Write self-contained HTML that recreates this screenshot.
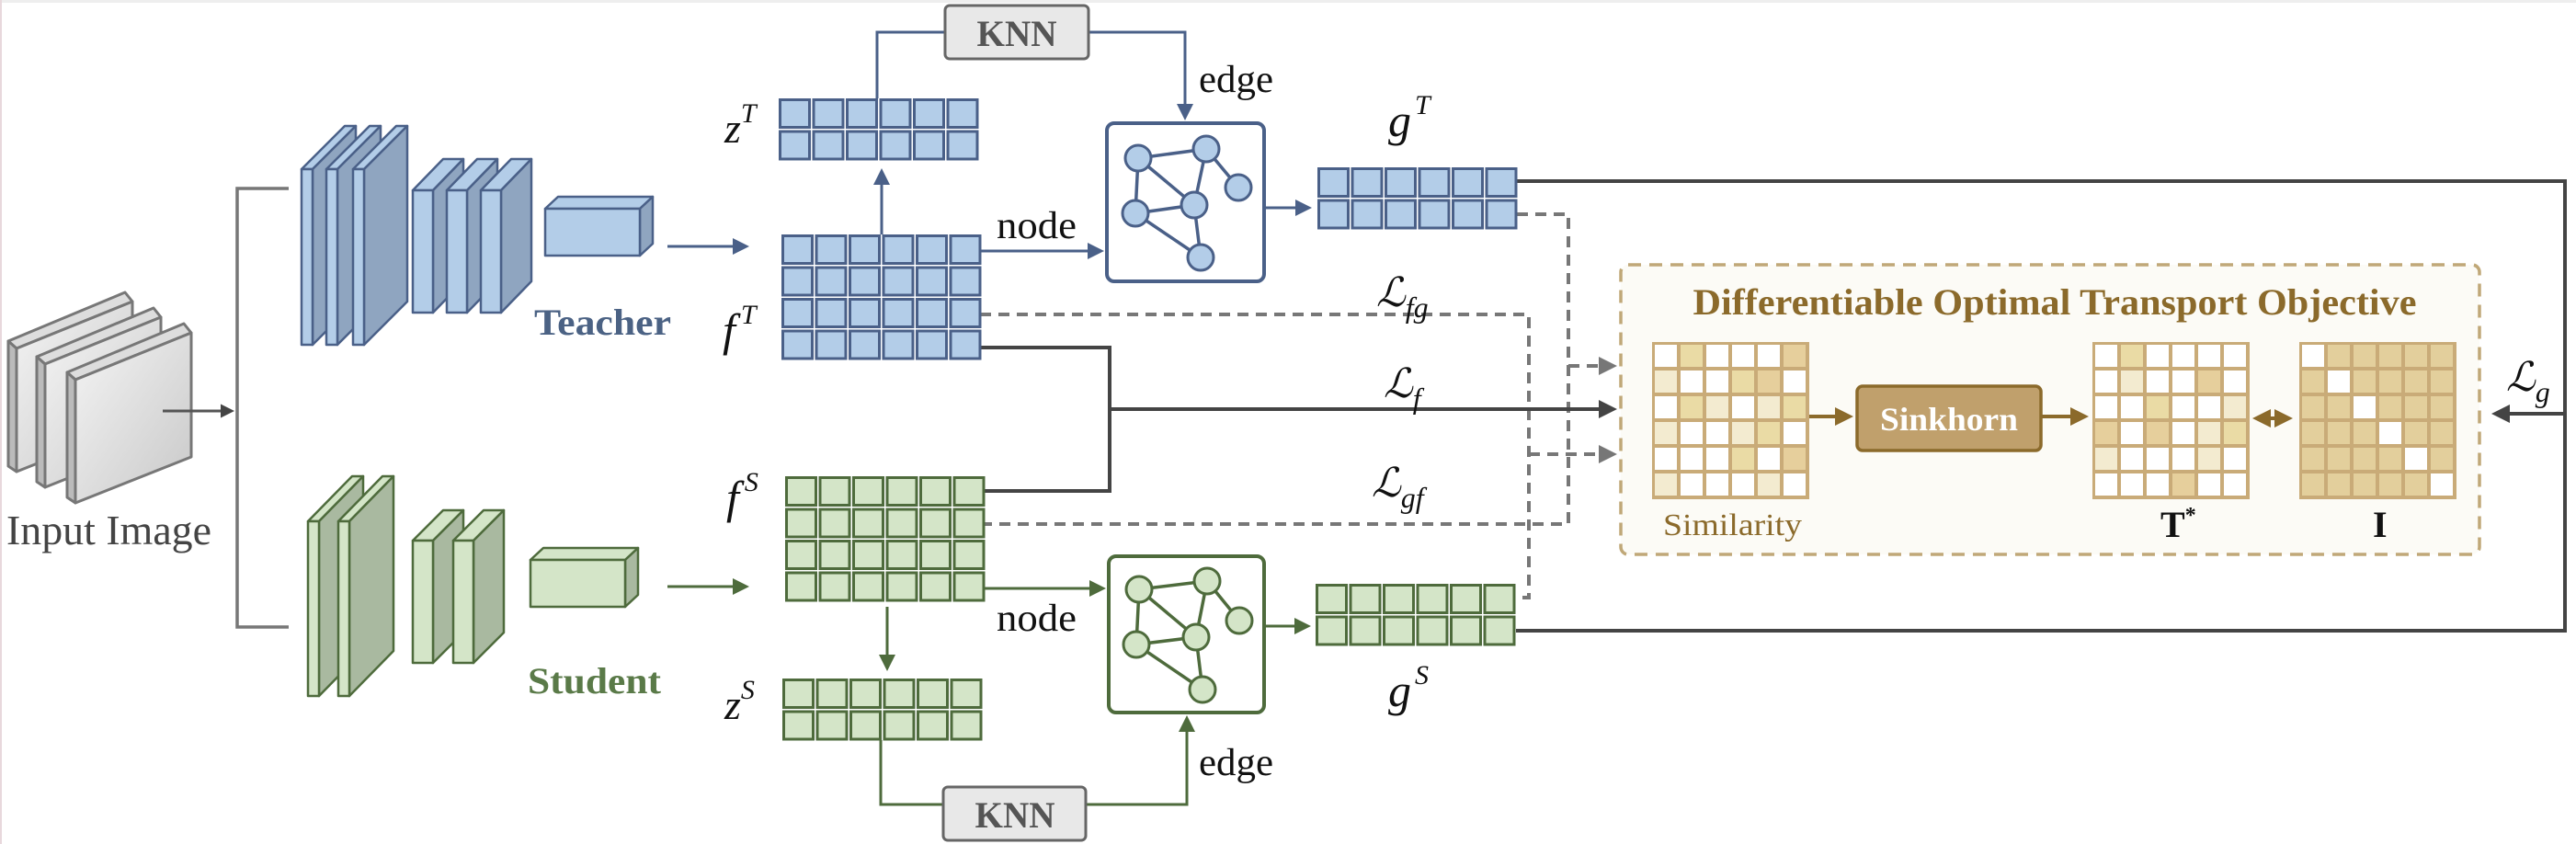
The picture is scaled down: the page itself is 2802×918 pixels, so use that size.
<!DOCTYPE html>
<html><head><meta charset="utf-8"><style>
html,body{margin:0;padding:0;background:#fff;}
svg{display:block;}
text{font-family:"Liberation Serif",serif;}
</style></head><body>
<svg width="2802" height="918" viewBox="0 0 2802 918" xmlns="http://www.w3.org/2000/svg">
<defs>
<pattern id="pb" patternUnits="userSpaceOnUse" width="36.5" height="34.5"><rect x="1.5" y="1.5" width="32" height="30" fill="#b3cde8" stroke="#4a6088" stroke-width="3"/></pattern>
<pattern id="pg" patternUnits="userSpaceOnUse" width="36.5" height="34.5"><rect x="1.5" y="1.5" width="32" height="30" fill="#d4e5c8" stroke="#4e6b3c" stroke-width="3"/></pattern>
<linearGradient id="gr" x1="0" y1="0" x2="1" y2="1"><stop offset="0" stop-color="#f4f4f4"/><stop offset="1" stop-color="#c8c8c8"/></linearGradient>
<marker id="ab" markerWidth="6" markerHeight="6" refX="5" refY="3" orient="auto" markerUnits="strokeWidth"><path d="M0,0 L6,3 L0,6z" fill="#4a6088"/></marker>
<marker id="ag" markerWidth="6" markerHeight="6" refX="5" refY="3" orient="auto" markerUnits="strokeWidth"><path d="M0,0 L6,3 L0,6z" fill="#4e6b3c"/></marker>
<marker id="ak" markerWidth="5" markerHeight="5" refX="4" refY="2.5" orient="auto" markerUnits="strokeWidth"><path d="M0,0 L5,2.5 L0,5z" fill="#444"/></marker>
<marker id="ay" markerWidth="5" markerHeight="5" refX="4" refY="2.5" orient="auto" markerUnits="strokeWidth"><path d="M0,0 L5,2.5 L0,5z" fill="#777"/></marker>
<marker id="ao" markerWidth="5" markerHeight="5" refX="4" refY="2.5" orient="auto" markerUnits="strokeWidth"><path d="M0,0 L5,2.5 L0,5z" fill="#8b6a2b"/></marker>
<marker id="aos" markerWidth="5" markerHeight="5" refX="1" refY="2.5" orient="auto" markerUnits="strokeWidth"><path d="M5,0 L0,2.5 L5,5z" fill="#8b6a2b"/></marker>
</defs>
<rect x="0" y="0" width="2802" height="3" fill="#eee"/>
<rect x="0" y="0" width="2" height="918" fill="#e8d8dc"/>

<!-- input image plates -->
<g stroke="#777" stroke-width="3" stroke-linejoin="round">
<g transform="translate(-64,-34)"><path d="M73,405 L200,352 L208,362 L82,413z" fill="#ddd"/><path d="M73,405 L82,413 L82,547 L73,541z" fill="#bbb"/><path d="M82,413 L208,362 L208,497 L82,547z" fill="url(#gr)"/></g>
<g transform="translate(-33,-17)"><path d="M73,405 L200,352 L208,362 L82,413z" fill="#ddd"/><path d="M73,405 L82,413 L82,547 L73,541z" fill="#bbb"/><path d="M82,413 L208,362 L208,497 L82,547z" fill="url(#gr)"/></g>
<g><path d="M73,405 L200,352 L208,362 L82,413z" fill="#ddd"/><path d="M73,405 L82,413 L82,547 L73,541z" fill="#bbb"/><path d="M82,413 L208,362 L208,497 L82,547z" fill="url(#gr)"/></g>
</g>
<line x1="177" y1="447" x2="252" y2="447" stroke="#555" stroke-width="3" marker-end="url(#ak)"/>
<text x="7" y="592" font-size="46" fill="#444" textLength="223" lengthAdjust="spacingAndGlyphs">Input Image</text>
<path d="M314,205 H258 V682 H314" fill="none" stroke="#777" stroke-width="3.5"/>

<!-- teacher backbone -->
<g stroke="#4a6088" stroke-width="2.5" stroke-linejoin="round">
<g><path d="M328,184 L375,137 L387,137 L340,184z" fill="#b3cde8"/><path d="M340,184 L387,137 L387,328 L340,375z" fill="#8fa5c0"/><rect x="328" y="184" width="12" height="191" fill="#b3cde8"/></g>
<g transform="translate(27,0)"><path d="M328,184 L375,137 L387,137 L340,184z" fill="#b3cde8"/><path d="M340,184 L387,137 L387,328 L340,375z" fill="#8fa5c0"/><rect x="328" y="184" width="12" height="191" fill="#b3cde8"/></g>
<g transform="translate(56,0)"><path d="M328,184 L375,137 L387,137 L340,184z" fill="#b3cde8"/><path d="M340,184 L387,137 L387,328 L340,375z" fill="#8fa5c0"/><rect x="328" y="184" width="12" height="191" fill="#b3cde8"/></g>
<g><path d="M449,207 L482,173 L504,173 L471,207z" fill="#b3cde8"/><path d="M471,207 L504,173 L504,306 L471,340z" fill="#8fa5c0"/><rect x="449" y="207" width="22" height="133" fill="#b3cde8"/></g>
<g transform="translate(37,0)"><path d="M449,207 L482,173 L504,173 L471,207z" fill="#b3cde8"/><path d="M471,207 L504,173 L504,306 L471,340z" fill="#8fa5c0"/><rect x="449" y="207" width="22" height="133" fill="#b3cde8"/></g>
<g transform="translate(74,0)"><path d="M449,207 L482,173 L504,173 L471,207z" fill="#b3cde8"/><path d="M471,207 L504,173 L504,306 L471,340z" fill="#8fa5c0"/><rect x="449" y="207" width="22" height="133" fill="#b3cde8"/></g>
<path d="M593,227 L607,214 L710,214 L696,227z" fill="#b3cde8"/><path d="M696,227 L710,214 L710,265 L696,278z" fill="#8fa5c0"/><rect x="593" y="227" width="103" height="51" fill="#b3cde8"/>
</g>
<line x1="726" y1="268" x2="812" y2="268" stroke="#4a6088" stroke-width="3" marker-end="url(#ab)"/>
<text x="581" y="364" font-size="40" font-weight="bold" fill="#4b6284" textLength="149" lengthAdjust="spacingAndGlyphs">Teacher</text>

<!-- student backbone -->
<g stroke="#4e6b3c" stroke-width="2.5" stroke-linejoin="round">
<g><path d="M335,567 L383,518 L395,518 L347,567z" fill="#d4e5c8"/><path d="M347,567 L395,518 L395,708 L347,757z" fill="#a9b9a0"/><rect x="335" y="567" width="12" height="190" fill="#d4e5c8"/></g>
<g transform="translate(33,0)"><path d="M335,567 L383,518 L395,518 L347,567z" fill="#d4e5c8"/><path d="M347,567 L395,518 L395,708 L347,757z" fill="#a9b9a0"/><rect x="335" y="567" width="12" height="190" fill="#d4e5c8"/></g>
<g><path d="M449,588 L482,555 L504,555 L471,588z" fill="#d4e5c8"/><path d="M471,588 L504,555 L504,688 L471,721z" fill="#a9b9a0"/><rect x="449" y="588" width="22" height="133" fill="#d4e5c8"/></g>
<g transform="translate(44,0)"><path d="M449,588 L482,555 L504,555 L471,588z" fill="#d4e5c8"/><path d="M471,588 L504,555 L504,688 L471,721z" fill="#a9b9a0"/><rect x="449" y="588" width="22" height="133" fill="#d4e5c8"/></g>
<path d="M577,609 L591,596 L694,596 L680,609z" fill="#d4e5c8"/><path d="M680,609 L694,596 L694,647 L680,660z" fill="#a9b9a0"/><rect x="577" y="609" width="103" height="51" fill="#d4e5c8"/>
</g>
<line x1="726" y1="638" x2="812" y2="638" stroke="#4e6b3c" stroke-width="3" marker-end="url(#ag)"/>
<text x="574" y="754" font-size="40" font-weight="bold" fill="#5a7a48" textLength="145" lengthAdjust="spacingAndGlyphs">Student</text>

<!-- connectors (under grids) -->
<g fill="none" stroke="#4a6088" stroke-width="3">
<line x1="959" y1="255" x2="959" y2="186" marker-end="url(#ab)"/>
<path d="M954,107 V35 H1028"/>
<path d="M1184,35 H1289 V128" marker-end="url(#ab)"/>
<line x1="1066" y1="273" x2="1198" y2="273" marker-end="url(#ab)"/>
<line x1="1375" y1="226" x2="1424" y2="226" marker-end="url(#ab)"/>
</g>
<g fill="none" stroke="#4e6b3c" stroke-width="3">
<line x1="965" y1="660" x2="965" y2="727" marker-end="url(#ag)"/>
<path d="M958,805 V875 H1026"/>
<path d="M1181,875 H1291 V781" marker-end="url(#ag)"/>
<line x1="1070" y1="640" x2="1200" y2="640" marker-end="url(#ag)"/>
<line x1="1375" y1="681" x2="1423" y2="681" marker-end="url(#ag)"/>
</g>
<!-- dashed -->
<g fill="none" stroke="#777" stroke-width="4" stroke-dasharray="12 8">
<path d="M1066,342 H1663 V650 H1649"/>
<path d="M1650,233 H1706 V570 H1070"/>
<path d="M1663,494 H1755" marker-end="url(#ay)"/>
<path d="M1706,398 H1755" marker-end="url(#ay)"/>
</g>
<g fill="none" stroke="#444" stroke-width="4">
<path d="M1066,378 H1207 V534 H1070"/>
<path d="M1207,445 H1755" marker-end="url(#ak)"/>
<path d="M1650,197 H2790 V686 H1649"/>
<path d="M2790,450 H2714" marker-end="url(#ak)"/>
</g>

<!-- grids -->
<rect transform="translate(847,107)" width="219" height="69" fill="url(#pb)"/>
<rect transform="translate(850,255)" width="219" height="138" fill="url(#pb)"/>
<rect transform="translate(1433,182)" width="219" height="69" fill="url(#pb)"/>
<rect transform="translate(854,518)" width="219" height="138" fill="url(#pg)"/>
<rect transform="translate(851,738)" width="219" height="69" fill="url(#pg)"/>
<rect transform="translate(1431,635)" width="219" height="69" fill="url(#pg)"/>

<!-- graph boxes -->
<g stroke="#4a6088" stroke-width="4" fill="#fff"><rect x="1204" y="134" width="171" height="172" rx="8"/></g>
<g stroke="#4a6088" stroke-width="3.5"><path d="M1238,172 L1312,162 M1238,172 L1235,232 M1238,172 L1299,223 M1312,162 L1299,223 M1312,162 L1347,204 M1235,232 L1299,223 M1235,232 L1306,280 M1299,223 L1306,280"/></g>
<g stroke="#4a6088" stroke-width="3" fill="#b3cde8"><circle cx="1238" cy="172" r="14"/><circle cx="1312" cy="162" r="14"/><circle cx="1347" cy="204" r="14"/><circle cx="1299" cy="223" r="14"/><circle cx="1235" cy="232" r="14"/><circle cx="1306" cy="280" r="14"/></g>
<g stroke="#4e6b3c" stroke-width="4" fill="#fff"><rect x="1206" y="605" width="169" height="170" rx="8"/></g>
<g stroke="#4e6b3c" stroke-width="3.5"><path d="M1239,641 L1313,632 M1239,641 L1236,701 M1239,641 L1301,693 M1313,632 L1301,693 M1313,632 L1348,675 M1236,701 L1301,693 M1236,701 L1308,750 M1301,693 L1308,750"/></g>
<g stroke="#4e6b3c" stroke-width="3" fill="#d4e5c8"><circle cx="1239" cy="641" r="14"/><circle cx="1313" cy="632" r="14"/><circle cx="1348" cy="675" r="14"/><circle cx="1301" cy="693" r="14"/><circle cx="1236" cy="701" r="14"/><circle cx="1308" cy="750" r="14"/></g>

<!-- KNN boxes -->
<rect x="1028" y="6" width="156" height="58" rx="5" fill="#e8e8e8" stroke="#666" stroke-width="3"/>
<text x="1106" y="50" font-size="40" font-weight="bold" fill="#555" text-anchor="middle" textLength="87" lengthAdjust="spacingAndGlyphs">KNN</text>
<rect x="1026" y="856" width="155" height="58" rx="5" fill="#e8e8e8" stroke="#666" stroke-width="3"/>
<text x="1104" y="900" font-size="40" font-weight="bold" fill="#555" text-anchor="middle" textLength="87" lengthAdjust="spacingAndGlyphs">KNN</text>

<!-- text labels -->
<g fill="#111" font-size="42">
<text x="1304" y="100" textLength="81" lengthAdjust="spacingAndGlyphs">edge</text>
<text x="1304" y="843" textLength="81" lengthAdjust="spacingAndGlyphs">edge</text>
<text x="1084" y="259" textLength="87" lengthAdjust="spacingAndGlyphs">node</text>
<text x="1084" y="686" textLength="87" lengthAdjust="spacingAndGlyphs">node</text>
</g>
<g fill="#111" font-style="italic">
<text x="788" y="155" font-size="46">z<tspan dy="-22" font-size="30">T</tspan></text>
<text x="786" y="376" font-size="50">f<tspan dy="-24" dx="6" font-size="30">T</tspan></text>
<text x="790" y="558" font-size="50">f<tspan dy="-24" dx="6" font-size="30">S</tspan></text>
<text x="788" y="782" font-size="46">z<tspan dy="-22" font-size="30">S</tspan></text>
<text x="1510" y="148" font-size="50">g<tspan dy="-24" dx="4" font-size="30">T</tspan></text>
<text x="1510" y="768" font-size="50">g<tspan dy="-24" dx="4" font-size="30">S</tspan></text>
<text x="1497" y="333" font-size="44">ℒ<tspan dy="12" font-size="32">fg</tspan></text>
<text x="1505" y="432" font-size="44">ℒ<tspan dy="12" font-size="32">f</tspan></text>
<text x="1492" y="540" font-size="44">ℒ<tspan dy="12" font-size="32">gf</tspan></text>
<text x="2726" y="425" font-size="44">ℒ<tspan dy="12" font-size="32">g</tspan></text>
</g>

<!-- OT objective -->
<rect x="1763" y="288" width="934" height="315" rx="8" fill="#fcfbf6" stroke="#c0a878" stroke-width="3.5" stroke-dasharray="14 9"/>
<text x="2235" y="342" font-size="40" font-weight="bold" fill="#8b6a2b" text-anchor="middle" textLength="787" lengthAdjust="spacingAndGlyphs">Differentiable Optimal Transport Objective</text>

<g>
<rect x="1797" y="372" width="171" height="171" fill="#c9ab78"/>
<g transform="translate(1800,375)">
<rect x="0" y="0" width="24" height="24" fill="#fff"/><rect x="28" y="0" width="24" height="24" fill="#eadba5"/><rect x="56" y="0" width="24" height="24" fill="#fff"/><rect x="84" y="0" width="24" height="24" fill="#fff"/><rect x="112" y="0" width="24" height="24" fill="#fff"/><rect x="140" y="0" width="24" height="24" fill="#e6cf9c"/>
<rect x="0" y="28" width="24" height="24" fill="#f3ebd0"/><rect x="28" y="28" width="24" height="24" fill="#fff"/><rect x="56" y="28" width="24" height="24" fill="#fff"/><rect x="84" y="28" width="24" height="24" fill="#eadba5"/><rect x="112" y="28" width="24" height="24" fill="#e6cf9c"/><rect x="140" y="28" width="24" height="24" fill="#fff"/>
<rect x="0" y="56" width="24" height="24" fill="#fff"/><rect x="28" y="56" width="24" height="24" fill="#eadba5"/><rect x="56" y="56" width="24" height="24" fill="#f3ebd0"/><rect x="84" y="56" width="24" height="24" fill="#fff"/><rect x="112" y="56" width="24" height="24" fill="#f3ebd0"/><rect x="140" y="56" width="24" height="24" fill="#eadba5"/>
<rect x="0" y="84" width="24" height="24" fill="#f3ebd0"/><rect x="28" y="84" width="24" height="24" fill="#fff"/><rect x="56" y="84" width="24" height="24" fill="#fff"/><rect x="84" y="84" width="24" height="24" fill="#f3ebd0"/><rect x="112" y="84" width="24" height="24" fill="#eadba5"/><rect x="140" y="84" width="24" height="24" fill="#fff"/>
<rect x="0" y="112" width="24" height="24" fill="#fff"/><rect x="28" y="112" width="24" height="24" fill="#fff"/><rect x="56" y="112" width="24" height="24" fill="#fff"/><rect x="84" y="112" width="24" height="24" fill="#eadba5"/><rect x="112" y="112" width="24" height="24" fill="#fff"/><rect x="140" y="112" width="24" height="24" fill="#e6cf9c"/>
<rect x="0" y="140" width="24" height="24" fill="#f3ebd0"/><rect x="28" y="140" width="24" height="24" fill="#fff"/><rect x="56" y="140" width="24" height="24" fill="#fff"/><rect x="84" y="140" width="24" height="24" fill="#fff"/><rect x="112" y="140" width="24" height="24" fill="#f3ebd0"/><rect x="140" y="140" width="24" height="24" fill="#fff"/>
</g>
</g>
<g>
<rect x="2276" y="372" width="171" height="171" fill="#c9ab78"/>
<g transform="translate(2279,375)">
<rect x="0" y="0" width="24" height="24" fill="#fff"/><rect x="28" y="0" width="24" height="24" fill="#eadba5"/><rect x="56" y="0" width="24" height="24" fill="#fff"/><rect x="84" y="0" width="24" height="24" fill="#fff"/><rect x="112" y="0" width="24" height="24" fill="#fff"/><rect x="140" y="0" width="24" height="24" fill="#fff"/>
<rect x="0" y="28" width="24" height="24" fill="#fff"/><rect x="28" y="28" width="24" height="24" fill="#f3ebd0"/><rect x="56" y="28" width="24" height="24" fill="#fff"/><rect x="84" y="28" width="24" height="24" fill="#fff"/><rect x="112" y="28" width="24" height="24" fill="#e6cf9c"/><rect x="140" y="28" width="24" height="24" fill="#fff"/>
<rect x="0" y="56" width="24" height="24" fill="#fff"/><rect x="28" y="56" width="24" height="24" fill="#fff"/><rect x="56" y="56" width="24" height="24" fill="#eadba5"/><rect x="84" y="56" width="24" height="24" fill="#fff"/><rect x="112" y="56" width="24" height="24" fill="#fff"/><rect x="140" y="56" width="24" height="24" fill="#f3ebd0"/>
<rect x="0" y="84" width="24" height="24" fill="#e6cf9c"/><rect x="28" y="84" width="24" height="24" fill="#fff"/><rect x="56" y="84" width="24" height="24" fill="#e6cf9c"/><rect x="84" y="84" width="24" height="24" fill="#fff"/><rect x="112" y="84" width="24" height="24" fill="#f3ebd0"/><rect x="140" y="84" width="24" height="24" fill="#eadba5"/>
<rect x="0" y="112" width="24" height="24" fill="#f3ebd0"/><rect x="28" y="112" width="24" height="24" fill="#fff"/><rect x="56" y="112" width="24" height="24" fill="#fff"/><rect x="84" y="112" width="24" height="24" fill="#fff"/><rect x="112" y="112" width="24" height="24" fill="#f3ebd0"/><rect x="140" y="112" width="24" height="24" fill="#fff"/>
<rect x="0" y="140" width="24" height="24" fill="#fff"/><rect x="28" y="140" width="24" height="24" fill="#fff"/><rect x="56" y="140" width="24" height="24" fill="#fff"/><rect x="84" y="140" width="24" height="24" fill="#e6cf9c"/><rect x="112" y="140" width="24" height="24" fill="#fff"/><rect x="140" y="140" width="24" height="24" fill="#fff"/>
</g>
</g>
<g>
<rect x="2501" y="372" width="171" height="171" fill="#c9ab78"/>
<g transform="translate(2504,375)" fill="#e3cf9c">
<rect x="0" y="0" width="24" height="24" fill="#fff"/><rect x="28" y="0" width="24" height="24"/><rect x="56" y="0" width="24" height="24"/><rect x="84" y="0" width="24" height="24"/><rect x="112" y="0" width="24" height="24"/><rect x="140" y="0" width="24" height="24"/>
<rect x="0" y="28" width="24" height="24"/><rect x="28" y="28" width="24" height="24" fill="#fff"/><rect x="56" y="28" width="24" height="24"/><rect x="84" y="28" width="24" height="24"/><rect x="112" y="28" width="24" height="24"/><rect x="140" y="28" width="24" height="24"/>
<rect x="0" y="56" width="24" height="24"/><rect x="28" y="56" width="24" height="24"/><rect x="56" y="56" width="24" height="24" fill="#fff"/><rect x="84" y="56" width="24" height="24"/><rect x="112" y="56" width="24" height="24"/><rect x="140" y="56" width="24" height="24"/>
<rect x="0" y="84" width="24" height="24"/><rect x="28" y="84" width="24" height="24"/><rect x="56" y="84" width="24" height="24"/><rect x="84" y="84" width="24" height="24" fill="#fff"/><rect x="112" y="84" width="24" height="24"/><rect x="140" y="84" width="24" height="24"/>
<rect x="0" y="112" width="24" height="24"/><rect x="28" y="112" width="24" height="24"/><rect x="56" y="112" width="24" height="24"/><rect x="84" y="112" width="24" height="24"/><rect x="112" y="112" width="24" height="24" fill="#fff"/><rect x="140" y="112" width="24" height="24"/>
<rect x="0" y="140" width="24" height="24"/><rect x="28" y="140" width="24" height="24"/><rect x="56" y="140" width="24" height="24"/><rect x="84" y="140" width="24" height="24"/><rect x="112" y="140" width="24" height="24"/><rect x="140" y="140" width="24" height="24" fill="#fff"/>
</g>
</g>

<rect x="2020" y="420" width="200" height="70" rx="6" fill="#c0a06c" stroke="#8b6a2b" stroke-width="3.5"/>
<text x="2120" y="468" font-size="36" font-weight="bold" fill="#fff" text-anchor="middle" textLength="150" lengthAdjust="spacingAndGlyphs">Sinkhorn</text>
<g stroke="#8b6a2b" stroke-width="4" fill="none">
<line x1="1968" y1="453" x2="2012" y2="453" marker-end="url(#ao)"/>
<line x1="2220" y1="453" x2="2268" y2="453" marker-end="url(#ao)"/>
<line x1="2454" y1="455" x2="2490" y2="455" marker-end="url(#ao)" marker-start="url(#aos)"/>
</g>
<text x="1809" y="582" font-size="34" fill="#8b6a2b" textLength="151" lengthAdjust="spacingAndGlyphs">Similarity</text>
<text x="2350" y="584" font-size="40" font-weight="bold" fill="#111">T<tspan dy="-16" font-size="24">*</tspan></text>
<text x="2581" y="584" font-size="40" font-weight="bold" fill="#111">I</text>
</svg>
</body></html>
